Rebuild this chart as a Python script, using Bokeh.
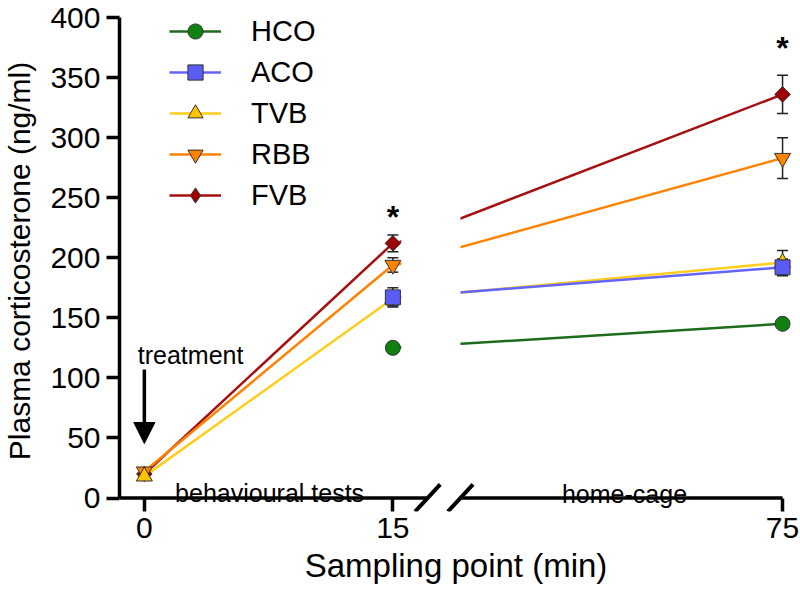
import math
from bokeh.plotting import figure
from bokeh.models import Range1d, FixedTicker, Legend, LegendItem, Arrow, NormalHead
from bokeh.core.properties import value
from bokeh.embed import file_html
from bokeh.resources import INLINE

nan = float("nan")

# ---------------- data ----------------
sampling_min = [0, 15, 75]
groups = ["HCO", "ACO", "TVB", "RBB", "FVB"]
hco_mean = [nan, 125, 145]
hco_sem = [nan, 3, 3]
aco_mean = [nan, 167, 192]
aco_sem = [nan, 8, 7]
tvb_mean = [18, 166, 196]
tvb_sem = [3, 6, 10]
rbb_mean = [22, 194, 283]
rbb_sem = [3, 6, 17]
fvb_mean = [20, 212, 336]
fvb_sem = [3, 7, 16]
y_ticks = [0, 50, 100, 150, 200, 250, 300, 350, 400]
x_tick_labels = ["0", "15", "75"]
signif_min = [15, 75]
signif_level = [234, 375]

# ---------------- layout (canvas pixels) ----------------
FONT_NAME = "Liberation Sans"
FONT = value(FONT_NAME)
W, H = 800, 599
FRAME_L, FRAME_R, FRAME_T, FRAME_B = 115, 792, 10, 511
ZERO_Y, TOP_Y = 497.5, 17.0           # canvas y of 0 and 400
Y_PX = (ZERO_Y - TOP_Y) / 400.0
X0, LEFT_PX = 140, 250 / 15           # canvas x of t=0, px per minute (left part)
RIGHT_T_START, RIGHT_X0, RIGHT_PX = 25, 458, 324 / 50
LEFT_END = 17.1                       # minute where the left axis part stops


def xm(px):   # canvas x -> left-segment minutes
    return (px - X0) / LEFT_PX


def xr(px):   # canvas x -> right-segment minutes
    return RIGHT_T_START + (px - RIGHT_X0) / RIGHT_PX


def yd(py):   # canvas y -> data value
    return (ZERO_Y - py) / Y_PX


x_main = Range1d(xm(FRAME_L), xm(FRAME_R))
x_right = Range1d(xr(FRAME_L), xr(FRAME_R))
y_rng = Range1d(yd(FRAME_B), yd(FRAME_T))

p = figure(width=W, height=H, x_range=x_main, y_range=y_rng, output_backend="svg",
           toolbar_location=None, min_border_left=FRAME_L, min_border_right=W - FRAME_R,
           min_border_top=FRAME_T, min_border_bottom=H - FRAME_B)
p.extra_x_ranges = {"right": x_right}
p.outline_line_color = None
p.xgrid.visible = False
p.ygrid.visible = False
p.background_fill_color = "white"
p.border_fill_color = "white"

means = [hco_mean, aco_mean, tvb_mean, rbb_mean, fvb_mean]
sems = [hco_sem, aco_sem, tvb_sem, rbb_sem, fvb_sem]
styles = {
    "HCO": dict(line="#1e6b1e", fill="#108010", marker="circle", size=15, angle=0),
    "ACO": dict(line="#6464fa", fill="#5b5bf6", marker="square", size=15, angle=0),
    "TVB": dict(line="#ffcd1c", fill="#ffc400", marker="triangle", size=16, angle=0),
    "RBB": dict(line="#ff8200", fill="#ff8200", marker="inverted_triangle", size=16, angle=0),
    "FVB": dict(line="#a50f0f", fill="#a00000", marker="square", size=11, angle=math.pi / 4),
}
order = list(range(len(groups)))[::-1]

right_line = {}
for i in order:
    g = groups[i]
    st = styles[g]
    p.line(sampling_min[:2], means[i][:2], line_color=st["line"], line_width=2.5)
    right_line[g] = p.line(sampling_min[1:], means[i][1:], line_color=st["line"], line_width=2.5,
                           x_range_name="right")

# hide the part of the 15->75 lines that falls inside the axis break
p.quad(left=[xr(398.5)], right=[RIGHT_T_START], bottom=[1.6], top=[y_rng.end], x_range_name="right",
       fill_color="white", line_color=None)

# broken x axis line with break marks
p.segment(x0=[x_main.start], y0=[0], x1=[LEFT_END], y1=[0], line_color="black", line_width=3.5)
p.segment(x0=[RIGHT_T_START], y0=[0], x1=[sampling_min[-1]], y1=[0], line_color="black",
          line_width=3.5, x_range_name="right")
p.scatter(x=[LEFT_END], y=[0], marker="dash", size=37, angle=0.824, line_color="black", line_width=4)
p.scatter(x=[RIGHT_T_START], y=[0], marker="dash", size=37, angle=0.824, line_color="black",
          line_width=4, x_range_name="right")

# error bars
for i in order:
    for rng, idx in (("default", [0, 1]), ("right", [2])):
        xs = [sampling_min[k] for k in idx]
        lo = [means[i][k] - sems[i][k] for k in idx]
        hi = [means[i][k] + sems[i][k] for k in idx]
        p.segment(x0=xs, y0=lo, x1=xs, y1=hi, line_color="#222222", line_width=1.5, x_range_name=rng)
        p.scatter(x=xs + xs, y=lo + hi, marker="dash", size=11, line_color="#222222",
                  line_width=1.5, x_range_name=rng)

# markers
legend_marker = {}
for i in order:
    g = groups[i]
    st = styles[g]
    kw = dict(marker=st["marker"], size=st["size"], angle=st["angle"], fill_color=st["fill"],
              line_color="#333333", line_width=1)
    legend_marker[g] = p.scatter(sampling_min[:2], means[i][:2], **kw)
    p.scatter(sampling_min[2:], means[i][2:], x_range_name="right", **kw)
# the legend cannot rotate a square, so the diamond gets its own legend glyph
legend_marker["FVB"] = p.scatter([nan], [nan], marker="diamond", size=16, fill_color=styles["FVB"]["fill"],
                                 line_color="#333333", line_width=1)

# significance marks
p.text(x=[signif_min[0]], y=[signif_level[0]], text=["*"], text_font=FONT, text_font_size="32px",
       text_font_style="bold", text_align="center", text_baseline="alphabetic")
p.text(x=[signif_min[1]], y=[signif_level[1]], text=["*"], text_font=FONT, text_font_size="32px",
       text_font_style="bold", text_align="center", text_baseline="alphabetic", x_range_name="right")

# segment captions
p.text(x=[xm(266)], y=[yd(492)], text=["behavioural tests"], text_font=FONT, text_font_size="25px",
       text_align="center", text_baseline="alphabetic")
p.text(x=[xr(623)], y=[yd(493)], text=["home-cage"], text_font=FONT, text_font_size="25px",
       text_align="center", text_baseline="alphabetic", x_range_name="right")

# treatment arrow
p.text(x=[xm(186.5)], y=[yd(354)], text=["treatment"], text_font=FONT, text_font_size="25px",
       text_align="center", text_baseline="alphabetic")
p.add_layout(Arrow(end=NormalHead(size=21, fill_color="black", line_color="black", line_width=1),
                   x_start=sampling_min[0], y_start=yd(369), x_end=sampling_min[0], y_end=yd(443),
                   line_width=3.5, line_color="black"))

# axes
ya = p.yaxis[0]
ya.ticker = FixedTicker(ticks=y_ticks)
ya.bounds = (y_ticks[0], y_ticks[-1])
ya.axis_line_width = 3.5
ya.axis_line_color = "black"
ya.major_tick_line_width = 3.5
ya.major_tick_line_color = "black"
ya.major_tick_out = 13
ya.major_tick_in = 0
ya.minor_tick_line_color = None
ya.major_label_text_font = FONT_NAME
ya.major_label_text_font_size = "30px"
ya.major_label_text_color = "black"
ya.major_label_standoff = 6
ya.axis_label = "Plasma corticosterone (ng/ml)"
ya.axis_label_text_font = FONT_NAME
ya.axis_label_text_font_size = "30px"
ya.axis_label_text_font_style = "normal"
ya.axis_label_text_color = "black"
ya.axis_label_standoff = 11

xa = p.xaxis[0]
t75 = round(xm(RIGHT_X0 + (sampling_min[2] - RIGHT_T_START) * RIGHT_PX), 4)
tick_pos = [sampling_min[0], sampling_min[1], t75]
xa.ticker = FixedTicker(ticks=tick_pos)
xa.major_label_overrides = {t: lab for t, lab in zip(tick_pos, x_tick_labels)}
xa.axis_line_color = None
xa.major_tick_line_width = 3.5
xa.major_tick_line_color = "black"
xa.major_tick_in = 13
xa.major_tick_out = 0
xa.minor_tick_line_color = None
xa.major_label_text_font = FONT_NAME
xa.major_label_text_font_size = "30px"
xa.major_label_text_color = "black"
xa.major_label_standoff = 6
xa.axis_label = "Sampling point (min)"
xa.axis_label_text_font = FONT_NAME
xa.axis_label_text_font_size = "33px"
xa.axis_label_text_font_style = "normal"
xa.axis_label_text_color = "black"
xa.axis_label_standoff = 6

# legend
items = [LegendItem(label=g, renderers=[right_line[g], legend_marker[g]]) for g in groups]
legend = Legend(items=items, location=(165 - FRAME_L, FRAME_B - 214), glyph_width=52, glyph_height=38,
                spacing=3, padding=0, margin=0, label_standoff=30, label_text_font=FONT_NAME,
                label_text_font_size="29px", label_text_color="black", border_line_color=None,
                background_fill_alpha=0)
p.add_layout(legend)

open("out.html", "w").write(file_html(p, INLINE))
